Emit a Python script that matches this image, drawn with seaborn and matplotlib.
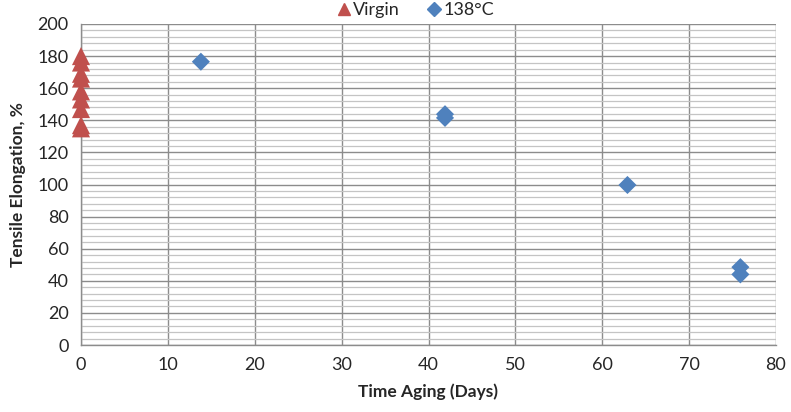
import matplotlib
matplotlib.use("Agg")
import matplotlib.pyplot as plt
import seaborn as sns
import pandas as pd
from matplotlib.ticker import MultipleLocator
from matplotlib.lines import Line2D

virgin_days = [0, 0, 0, 0, 0, 0, 0, 0, 0]
virgin_elong = [180, 176, 169, 166, 158, 153, 147, 137, 135]
aged_days = [13.8, 41.9, 41.9, 62.9, 75.9, 75.9]
aged_elong = [176.5, 143.8, 141.5, 99.7, 48.5, 44.0]

df = pd.DataFrame({
    "days": virgin_days + aged_days,
    "elong": virgin_elong + aged_elong,
    "group": ["Virgin"] * len(virgin_days) + ["138°C"] * len(aged_days),
})

sns.set_style("white")
plt.rcParams["font.family"] = ["Lato", "DejaVu Sans"]

fig = plt.figure(figsize=(7.91, 4.12), dpi=100)
ax = fig.add_axes([81 / 791, 67 / 412, 695 / 791, 321 / 412])

sns.scatterplot(
    data=df, x="days", y="elong", hue="group", style="group",
    palette={"Virgin": "#C0504D", "138°C": "#4F81BD"},
    markers={"Virgin": "^", "138°C": "D"},
    size="group", sizes={"Virgin": 170, "138°C": 85},
    edgecolor="none", ax=ax, zorder=3, clip_on=False, legend=False,
)

ax.set_xlim(0, 80)
ax.set_ylim(0, 200)
ax.xaxis.set_major_locator(MultipleLocator(10))
ax.yaxis.set_major_locator(MultipleLocator(20))
ax.yaxis.set_minor_locator(MultipleLocator(4))
ax.grid(which="major", axis="both", color="#8c8c8c", lw=1.0, zorder=0)
ax.grid(which="minor", axis="y", color="#c4c4c4", lw=0.9, zorder=0)
ax.set_axisbelow(True)
for s in ["top", "right"]:
    ax.spines[s].set_visible(False)
for s in ["left", "bottom"]:
    ax.spines[s].set_color("#8c8c8c")
    ax.spines[s].set_linewidth(1.0)
ax.tick_params(axis="both", which="major", direction="out", length=5,
               color="#8c8c8c", labelsize=13, pad=4)
ax.tick_params(axis="y", which="minor", length=0)

ax.set_xlabel("Time Aging (Days)", fontsize=12.5, fontweight="bold", labelpad=7)
ax.set_ylabel("Tensile Elongation, %", fontsize=12.5, fontweight="bold", labelpad=8)

handles = [
    Line2D([], [], ls="none", marker="^", color="#C0504D", markersize=9),
    Line2D([], [], ls="none", marker="D", color="#4F81BD", markersize=7),
]
ax.legend(handles, ["Virgin", "138°C"], loc="lower center",
          bbox_to_anchor=(0.48, 0.995), ncol=2, frameon=False, fontsize=13,
          handletextpad=0.0, handlelength=1.0, columnspacing=1.4,
          borderaxespad=0)

fig.savefig("out.png", dpi=100)
